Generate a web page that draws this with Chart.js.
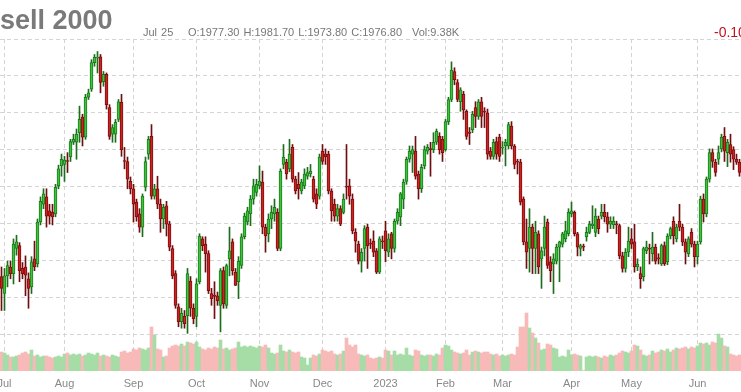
<!DOCTYPE html>
<html>
<head>
<meta charset="utf-8">
<script src="https://cdn.jsdelivr.net/npm/chart.js@4.4.0/dist/chart.umd.min.js"></script>
<style>
  html, body { margin: 0; padding: 0; background: #fff; overflow: hidden; }
  #wrap { position: relative; width: 741px; height: 392px; overflow: hidden; font-family: Arial, "Liberation Sans", sans-serif; }
  #chart { position: absolute; left: 0; top: 0; }
  #title { position: absolute; top: 7px; font-size: 27px; line-height: 27px; font-weight: bold; color: #7a7a7a; white-space: nowrap; }
  .hd { position: absolute; top: 27px; font-size: 11px; line-height: 11px; color: #777; white-space: pre; word-spacing: 1px; }
  #chg { position: absolute; top: 25px; left: 714px; font-size: 14px; line-height: 14px; color: #c0141b; white-space: nowrap; }
</style>
</head>
<body>
<div id="wrap">
  <canvas id="chart" width="741" height="392"></canvas>
  <div id="title">Russell 2000</div>
  <div class="hd" style="left:143px">Jul 25</div>
  <div class="hd" style="left:188px">O:1977.30 H:1981.70 L:1973.80 C:1976.80</div>
  <div class="hd" style="left:412px">Vol:9.38K</div>
  <div id="chg">-0.10</div>
</div>
<script>
// daily candles, Jun 30 2022 .. Jun 22 2023
const opens = [
  1728,1705,1729,1741,1732,1766,1770,1739,1741,1725,
  1714,1752,1745,1802,1826,1836,1817,1815,1813,1851,
  1878,1880,1885,1890,1910,1910,1923,1944,1917,1971,
  1982,2018,2024,2026,1992,2002,1957,1921,1921,1941,
  1964,1885,1884,1857,1847,1829,1813,1795,1849,1894,
  1918,1837,1847,1826,1806,1824,1799,1766,1732,1687,
  1667,1674,1675,1722,1685,1674,1721,1779,1772,1759,
  1705,1703,1702,1689,1736,1689,1752,1775,1734,1721,
  1743,1782,1802,1813,1833,1842,1851,1856,1795,1786,
  1806,1813,1815,1766,1880,1883,1874,1903,1860,1853,
  1844,1851,1864,1867,1860,1840,1837,1898,1894,1894,
  1844,1826,1810,1820,1815,1850,1851,1833,1788,1772,
  1749,1766,1795,1773,1776,1763,1734,1776,1790,1761,
  1786,1766,1803,1809,1833,1857,1887,1894,1898,1867,
  1847,1878,1898,1901,1900,1910,1918,1914,1900,1938,
  1968,2006,1991,1965,1975,1952,1924,1927,1957,1945,
  1965,1952,1950,1898,1891,1911,1917,1902,1905,1905,
  1932,1905,1884,1883,1833,1775,1766,1795,1766,1786,
  1752,1766,1802,1748,1745,1749,1768,1772,1779,1786,
  1813,1815,1786,1766,1769,1782,1788,1797,1788,1806,
  1810,1815,1809,1799,1798,1799,1797,1756,1739,1761,
  1779,1775,1741,1732,1728,1763,1766,1759,1768,1753,
  1745,1770,1748,1783,1803,1779,1803,1795,1775,1759,
  1788,1772,1755,1775,1833,1813,1860,1896,1883,1887,
  1901,1918,1896,1907,1900,1887,1883
];
const highs = [
  1741,1739,1749,1749,1779,1784,1774,1747,1756,1733,
  1755,1776,1806,1836,1847,1847,1826,1826,1853,1879,
  1894,1891,1896,1914,1921,1928,1959,1948,1975,1982,
  2022,2029,2033,2029,2006,2004,1961,1934,1941,1968,
  1975,1903,1890,1863,1853,1833,1820,1840,1890,1918,
  1934,1853,1864,1833,1826,1830,1803,1770,1736,1691,
  1685,1682,1739,1728,1691,1725,1786,1782,1782,1763,
  1712,1721,1707,1739,1741,1745,1795,1779,1739,1755,
  1786,1814,1822,1838,1860,1860,1878,1871,1799,1813,
  1824,1833,1820,1874,1907,1887,1914,1907,1864,1869,
  1860,1874,1876,1880,1864,1847,1894,1907,1901,1898,
  1847,1833,1826,1824,1840,1907,1860,1840,1793,1776,
  1766,1797,1799,1779,1790,1766,1782,1783,1803,1786,
  1788,1806,1820,1842,1860,1890,1905,1905,1918,1871,
  1880,1905,1907,1910,1923,1928,1923,1918,1941,1971,
  2019,2011,1995,1984,1979,1954,1930,1952,1965,1968,
  1971,1957,1955,1903,1914,1917,1921,1911,1914,1937,
  1938,1907,1887,1887,1836,1806,1820,1799,1803,1790,
  1768,1810,1806,1755,1759,1772,1776,1788,1803,1820,
  1829,1817,1788,1772,1772,1795,1803,1824,1820,1810,
  1826,1826,1815,1809,1809,1803,1799,1761,1766,1795,
  1793,1799,1752,1741,1768,1776,1772,1788,1772,1759,
  1772,1775,1786,1795,1809,1799,1826,1799,1779,1782,
  1793,1776,1776,1837,1840,1863,1901,1901,1887,1905,
  1921,1930,1914,1921,1904,1894,1887
];
const lows = [
  1682,1682,1714,1725,1718,1757,1721,1725,1702,1685,
  1705,1736,1741,1798,1820,1795,1799,1798,1809,1847,
  1864,1857,1869,1884,1907,1887,1910,1905,1914,1968,
  1979,2013,2004,1977,1986,1955,1914,1910,1910,1938,
  1891,1874,1847,1840,1802,1803,1788,1782,1844,1887,
  1833,1833,1820,1788,1793,1783,1763,1725,1685,1660,
  1658,1658,1651,1674,1664,1660,1718,1763,1734,1705,
  1689,1671,1689,1653,1685,1685,1729,1730,1716,1698,
  1739,1779,1798,1797,1826,1837,1847,1786,1761,1775,
  1793,1803,1763,1763,1874,1860,1870,1856,1840,1833,
  1840,1847,1860,1863,1829,1820,1833,1880,1880,1840,
  1803,1803,1803,1797,1813,1833,1826,1786,1761,1745,
  1734,1749,1739,1766,1755,1732,1732,1766,1748,1755,
  1752,1761,1799,1797,1820,1853,1883,1869,1860,1833,
  1842,1874,1894,1864,1896,1907,1894,1884,1898,1934,
  1965,1988,1965,1952,1941,1914,1907,1923,1930,1941,
  1930,1930,1887,1887,1887,1887,1884,1894,1878,1901,
  1901,1874,1867,1825,1771,1739,1734,1732,1732,1732,
  1712,1756,1739,1721,1705,1745,1721,1768,1775,1783,
  1809,1783,1756,1756,1763,1776,1786,1793,1782,1786,
  1806,1802,1788,1793,1793,1786,1752,1734,1734,1755,
  1766,1734,1736,1712,1722,1759,1745,1749,1745,1745,
  1743,1743,1744,1779,1772,1775,1790,1770,1745,1755,
  1768,1741,1745,1772,1802,1809,1856,1876,1864,1880,
  1897,1884,1877,1883,1873,1880,1864
];
const closes = [
  1712,1729,1743,1732,1772,1775,1736,1732,1730,1712,
  1748,1741,1802,1830,1840,1810,1810,1809,1849,1874,
  1887,1886,1884,1911,1914,1921,1941,1917,1971,1977,
  2018,2025,2025,1991,2002,1961,1918,1930,1937,1965,
  1900,1884,1860,1847,1826,1809,1795,1837,1884,1914,
  1837,1847,1826,1806,1822,1799,1768,1729,1689,1667,
  1678,1664,1732,1685,1671,1718,1783,1770,1759,1709,
  1698,1701,1695,1736,1691,1743,1763,1736,1716,1749,
  1782,1810,1817,1833,1851,1853,1857,1795,1783,1806,
  1815,1822,1766,1871,1890,1867,1894,1860,1844,1847,
  1856,1867,1869,1871,1833,1826,1890,1884,1890,1844,
  1817,1810,1820,1799,1833,1849,1837,1790,1776,1749,
  1761,1793,1770,1772,1761,1734,1779,1775,1763,1779,
  1766,1803,1815,1840,1856,1887,1898,1900,1864,1847,
  1876,1900,1903,1900,1910,1925,1900,1896,1938,1968,
  2008,1995,1968,1981,1954,1918,1922,1948,1945,1965,
  1945,1951,1894,1891,1910,1894,1891,1903,1910,1934,
  1905,1880,1883,1829,1775,1761,1795,1766,1788,1741,
  1763,1795,1743,1736,1752,1768,1775,1786,1790,1815,
  1817,1786,1768,1770,1768,1788,1799,1799,1810,1793,
  1815,1809,1799,1803,1803,1798,1756,1739,1761,1776,
  1772,1741,1745,1725,1766,1768,1765,1768,1749,1752,
  1770,1745,1783,1793,1783,1795,1795,1775,1761,1779,
  1772,1755,1772,1833,1813,1860,1896,1884,1869,1896,
  1917,1898,1910,1894,1887,1883,1869
];
// volume in thousands
const volumes = [
  190,180,160,140,140,150,160,180,190,170,
  210,150,160,140,150,150,140,130,140,150,
  140,170,180,160,170,160,170,150,160,180,
  170,160,180,150,160,150,140,160,150,140,
  190,200,180,190,220,210,230,220,210,230,
  440,360,220,210,140,150,230,250,260,250,
  270,250,290,280,270,290,240,220,210,230,
  220,240,230,310,220,230,210,220,230,290,
  240,250,240,250,240,230,250,240,260,230,
  180,170,180,260,200,190,210,190,180,190,
  140,130,60,130,160,150,170,210,200,190,
  200,170,160,170,200,330,260,240,260,170,
  160,150,160,130,120,130,140,130,210,200,
  160,200,160,170,160,230,160,150,210,200,
  160,150,160,160,150,170,160,230,260,250,
  210,190,180,170,180,210,160,190,200,190,
  180,190,190,170,160,170,150,160,150,160,
  170,160,240,440,440,580,430,380,330,280,
  210,220,270,260,230,220,140,150,140,210,
  160,170,160,150,5,140,150,140,150,140,
  130,150,140,160,150,160,180,200,190,180,
  200,260,250,210,160,150,160,200,180,190,
  210,200,220,190,210,230,220,230,240,220,
  240,230,250,280,270,280,260,290,280,370,
  330,250,240,170,160,150,160
];
// first trading day of each month (index into the series) and its label
const monthStarts = [1, 21, 44, 65, 86, 107, 128, 148, 167, 190, 210, 232];
const monthNames = ['Jul', 'Aug', 'Sep', 'Oct', 'Nov', 'Dec', '2023', 'Feb', 'Mar', 'Apr', 'May', 'Jun'];

// hide "Rus" off the left edge like the cropped screenshot
const title = document.getElementById('title');
const mctx = document.createElement('canvas').getContext('2d');
mctx.font = 'bold 27px Arial';
title.style.left = (-mctx.measureText('Rus').width) + 'px';

const up = closes.map((c, i) => c >= opens[i]);
const labels = closes.map((c, i) => i);

const gridColor = '#d4d4d4';

new Chart(document.getElementById('chart'), {
  type: 'bar',
  data: {
    labels: labels,
    datasets: [
      {
        label: 'body',
        data: opens.map((o, i) => [o, closes[i]]),
        yAxisID: 'y',
        grouped: false,
        barThickness: 3,
        minBarLength: 1,
        borderWidth: 1,
        borderSkipped: false,
        backgroundColor: up.map(u => u ? '#3cc43c' : '#cc2222'),
        borderColor: up.map(u => u ? '#1c7a1c' : '#7d0e0e'),
        order: 1
      },
      {
        label: 'wick',
        data: lows.map((l, i) => [l, highs[i]]),
        yAxisID: 'y',
        grouped: false,
        barThickness: 1,
        backgroundColor: up.map(u => u ? '#1c6e1c' : '#6e0e0e'),
        order: 2
      },
      {
        label: 'volume',
        data: volumes,
        yAxisID: 'yv',
        grouped: false,
        barPercentage: 1,
        categoryPercentage: 1,
        backgroundColor: up.map(u => u ? '#a6dca6' : '#f8b9b9'),
        order: 3
      }
    ]
  },
  options: {
    responsive: false,
    animation: false,
    events: [],
    layout: { padding: { top: 39, left: 0, right: 0, bottom: 0 } },
    plugins: { legend: { display: false }, tooltip: { enabled: false } },
    scales: {
      x: {
        type: 'category',
        offset: true,
        grid: {
          offset: false,
          drawTicks: true,
          tickLength: 6,
          tickColor: 'transparent',
          color: (c) => monthStarts.includes(c.index) ? gridColor : 'transparent'
        },
        border: { display: false, dash: [4, 3] },
        ticks: {
          autoSkip: false,
          maxRotation: 0,
          minRotation: 0,
          padding: 0,
          color: '#888',
          font: { family: 'Arial', size: 11 },
          callback: (v, i) => {
            const k = monthStarts.indexOf(i);
            return k >= 0 ? monthNames[k] : '';
          }
        },
        afterFit: (s) => { s.height = 21; }
      },
      y: {
        position: 'right',
        min: 1600,
        max: 2050,
        ticks: { display: false, stepSize: 50 },
        grid: {
          drawTicks: false,
          color: (c) => (c.tick && c.tick.value === 1600) ? 'transparent' : gridColor
        },
        border: { display: false, dash: [4, 3] }
      },
      yv: {
        display: false,
        min: 0,
        max: 3320
      }
    }
  }
});
</script>
</body>
</html>
